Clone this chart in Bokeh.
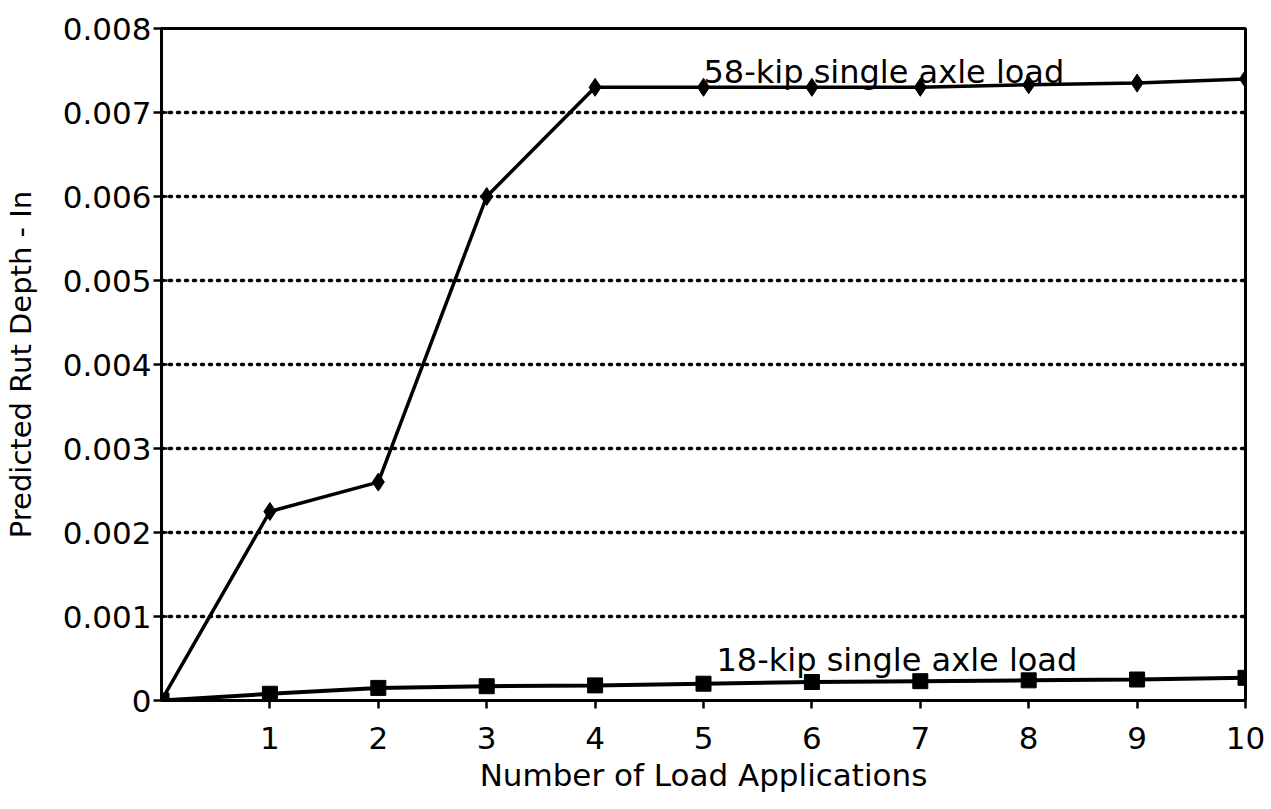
from bokeh.plotting import figure
from bokeh.models import FixedTicker, Range1d, Label
from bokeh.embed import file_html
from bokeh.resources import INLINE

# ---- data ----
load_apps = [0, 1, 2, 3, 4, 5, 6, 7, 8, 9, 10]
rut_58kip = [0.0, 0.00225, 0.0026, 0.0060, 0.0073, 0.0073, 0.0073, 0.0073, 0.00733, 0.00735, 0.0074]
rut_18kip = [0.0, 0.00008, 0.00015, 0.00017, 0.00018, 0.0002, 0.00022, 0.00023, 0.00024, 0.00025, 0.00027]

y_ticks = [0, 0.001, 0.002, 0.003, 0.004, 0.005, 0.006, 0.007, 0.008]
y_tick_labels = ["0", "0.001", "0.002", "0.003", "0.004", "0.005", "0.006", "0.007", "0.008"]
x_ticks = [1, 2, 3, 4, 5, 6, 7, 8, 9, 10]
x_tick_labels = ["1", "2", "3", "4", "5", "6", "7", "8", "9", "10"]

label_58 = "58-kip single axle load"
label_18 = "18-kip single axle load"
x_title = "Number of Load Applications"
y_title = "Predicted Rut Depth - In"

FONT = "DejaVu Sans"

p = figure(width=1271, height=809, output_backend="svg", toolbar_location=None,
           x_range=Range1d(0, 10), y_range=Range1d(0, 0.008),
           min_border_left=160, min_border_right=26, min_border_top=28, min_border_bottom=109)
p.background_fill_color = "white"
p.border_fill_color = "white"
p.outline_line_color = "black"
p.outline_line_width = 3

# grid
p.xgrid.grid_line_color = None
p.ygrid.ticker = FixedTicker(ticks=y_ticks[1:-1])
p.ygrid.grid_line_color = "black"
p.ygrid.grid_line_width = 3.5
p.ygrid.grid_line_dash = "2 6"
p.ygrid.grid_line_cap = "round"

# y axis
p.yaxis.ticker = FixedTicker(ticks=y_ticks)
p.yaxis.major_label_overrides = {t: s for t, s in zip(y_ticks, y_tick_labels)}
p.yaxis.axis_line_width = 3
p.yaxis.major_tick_line_width = 2.5
p.yaxis.major_tick_in = 6
p.yaxis.major_tick_out = 8
p.yaxis.minor_tick_line_color = None
p.yaxis.major_label_text_font = FONT
p.yaxis.major_label_text_font_size = "31px"
p.yaxis.major_label_text_color = "black"
p.yaxis.major_label_standoff = 2
p.yaxis.axis_label = y_title
p.yaxis.axis_label_text_font = FONT
p.yaxis.axis_label_text_font_size = "29px"
p.yaxis.axis_label_text_font_style = "normal"
p.yaxis.axis_label_text_color = "black"
p.yaxis.axis_label_standoff = 22

# x axis
p.xaxis.ticker = FixedTicker(ticks=x_ticks)
p.xaxis.major_label_overrides = {t: s for t, s in zip(x_ticks, x_tick_labels)}
p.xaxis.axis_line_width = 3
p.xaxis.major_tick_line_width = 2.5
p.xaxis.major_tick_in = 0
p.xaxis.major_tick_out = 8
p.xaxis.minor_tick_line_color = None
p.xaxis.major_label_text_font = FONT
p.xaxis.major_label_text_font_size = "31px"
p.xaxis.major_label_text_color = "black"
p.xaxis.major_label_standoff = 18
p.xaxis.axis_label = x_title
p.xaxis.axis_label_text_font = FONT
p.xaxis.axis_label_text_font_size = "31px"
p.xaxis.axis_label_text_font_style = "normal"
p.xaxis.axis_label_text_color = "black"
p.xaxis.axis_label_standoff = 5

# series
p.line(load_apps, rut_58kip, line_color="black", line_width=3.5)
p.scatter(load_apps, rut_58kip, marker="diamond", size=18, fill_color="black", line_color="black")
p.line(load_apps, rut_18kip, line_color="black", line_width=4)
p.scatter(load_apps, rut_18kip, marker="square", size=15, fill_color="black", line_color="black")

# annotations
p.add_layout(Label(x=load_apps[5], y=rut_58kip[5], text=label_58, y_offset=15,
                   text_font=FONT, text_font_size="32px", text_color="black",
                   text_baseline="alphabetic", text_align="left"))
p.add_layout(Label(x=load_apps[5] + 0.12, y=rut_18kip[6], text=label_18, y_offset=22,
                   text_font=FONT, text_font_size="32px", text_color="black",
                   text_baseline="alphabetic", text_align="left"))

open("out.html", "w").write(file_html(p, INLINE))
